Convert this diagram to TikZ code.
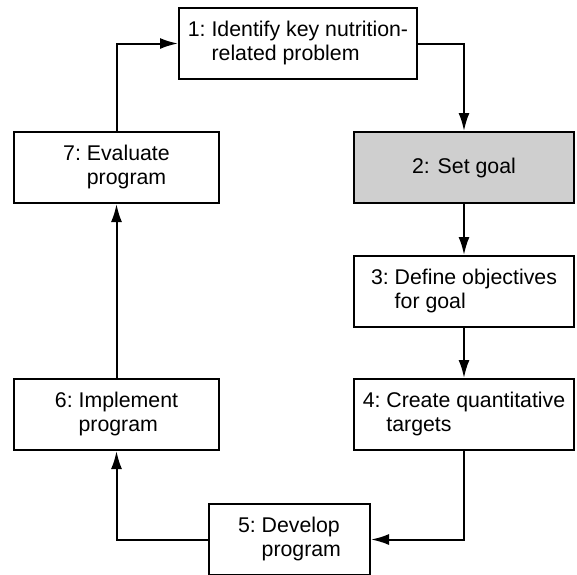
\documentclass[tikz,border=0pt]{standalone}
\usepackage{fontspec}
\setmainfont{Liberation Sans}
\usetikzlibrary{arrows.meta}

\newcommand{\stagelabel}[3]{\begin{tabular}{@{}l@{\ }l@{}}#1: & #2\\ & #3\end{tabular}}

\tikzset{
  stagebox/.style={draw, rectangle, line width=2pt, inner sep=0pt,
    minimum height=71pt, font=\fontsize{21.3}{24}\selectfont},
  flow/.style={->, line width=2pt, >={Latex[length=18pt,width=11pt]}}
}

\begin{document}
\begin{tikzpicture}[x=1pt, y=-1pt]

\useasboundingbox (0,0) rectangle (577,574);
\clip (0,0) rectangle (577,574);

\def \rightx {464}
\def \leftx {116.5}

% the seven stages
\node[stagebox, minimum width=238pt] (identify) at (298,43.5)
  {\stagelabel{1}{Identify key nutrition-}{related problem}};
\node[stagebox, minimum width=220pt, fill=black!19] (goal) at (\rightx,167.5)
  {2: Set goal};
\node[stagebox, minimum width=220pt] (objectives) at (\rightx,291.5)
  {\stagelabel{3}{Define objectives}{for goal}};
\node[stagebox, minimum width=220pt] (targets) at (\rightx,414.5)
  {\stagelabel{4}{Create quantitative}{targets}};
\node[stagebox, minimum width=161pt] (develop) at (289.5,539.5)
  {\stagelabel{5}{Develop}{program}};
\node[stagebox, minimum width=205pt] (implement) at (\leftx,414.5)
  {\stagelabel{6}{Implement}{program}};
\node[stagebox, minimum width=205pt] (evaluate) at (\leftx,167.5)
  {\stagelabel{7}{Evaluate}{program}};

% the cycle
\draw[flow] (identify.east) -| (goal.north);
\draw[flow] (goal) -- (objectives);
\draw[flow] (objectives) -- (targets);
\draw[flow] (targets.south) |- (develop.east);
\draw[flow] (develop.west) -| (implement.south);
\draw[flow] (implement) -- (evaluate);
\draw[flow] (evaluate.north) |- (identify.west);

\end{tikzpicture}
\end{document}
